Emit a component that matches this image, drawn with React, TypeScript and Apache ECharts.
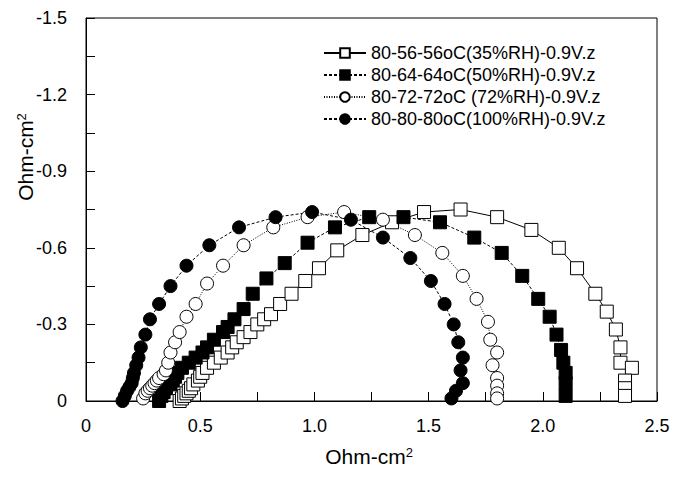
import React, { useEffect, useRef } from "react";
import * as echarts from "echarts";

const seriesNames = [
  "80-56-56oC(35%RH)-0.9V.z",
  "80-64-64oC(50%RH)-0.9V.z",
  "80-72-72oC (72%RH)-0.9V.z",
  "80-80-80oC(100%RH)-0.9V.z",
];

const xTicks = ["0", "0.5", "1.0", "1.5", "2.0", "2.5"];
const yTicks = ["-1.5", "-1.2", "-0.9", "-0.6", "-0.3", "0"];

const rh35: [number, number][] = [
  [0.41, 0.0], [0.42, -0.01], [0.43, -0.02], [0.44, -0.03], [0.45, -0.04], [0.46, -0.05],
  [0.47, -0.065], [0.49, -0.08], [0.5, -0.095], [0.51, -0.11], [0.53, -0.13], [0.56, -0.15],
  [0.59, -0.17], [0.62, -0.19], [0.64, -0.21], [0.66, -0.23], [0.69, -0.25], [0.72, -0.27],
  [0.75, -0.3], [0.78, -0.32], [0.81, -0.34], [0.85, -0.38], [0.9, -0.42], [0.96, -0.47],
  [1.02, -0.52], [1.1, -0.59], [1.21, -0.65], [1.34, -0.7], [1.48, -0.74], [1.64, -0.75],
  [1.8, -0.72], [1.95, -0.67], [2.07, -0.6], [2.15, -0.52], [2.23, -0.42], [2.28, -0.35],
  [2.32, -0.28], [2.34, -0.21], [2.34, -0.15], [2.39, -0.13], [2.36, -0.08], [2.36, -0.05],
  [2.36, -0.02],
];

const rh50: [number, number][] = [
  [0.32, 0.0], [0.33, -0.02], [0.34, -0.035], [0.35, -0.05], [0.37, -0.065], [0.38, -0.08],
  [0.39, -0.095], [0.4, -0.11], [0.42, -0.13], [0.45, -0.15], [0.48, -0.17], [0.51, -0.19],
  [0.53, -0.21], [0.56, -0.24], [0.6, -0.27], [0.62, -0.29], [0.65, -0.32], [0.69, -0.36],
  [0.73, -0.42], [0.79, -0.48], [0.87, -0.54], [0.97, -0.62], [1.09, -0.68], [1.24, -0.72],
  [1.39, -0.72], [1.55, -0.7], [1.7, -0.64], [1.82, -0.58], [1.91, -0.49], [1.98, -0.4],
  [2.03, -0.33], [2.06, -0.26], [2.08, -0.2], [2.09, -0.15], [2.1, -0.11], [2.1, -0.07],
  [2.1, -0.02],
];

const rh72: [number, number][] = [
  [0.25, -0.01], [0.26, -0.03], [0.27, -0.04], [0.28, -0.05], [0.29, -0.06], [0.3, -0.07],
  [0.31, -0.08], [0.32, -0.09], [0.34, -0.105], [0.35, -0.12], [0.36, -0.15], [0.37, -0.19],
  [0.39, -0.23], [0.41, -0.27], [0.44, -0.33], [0.48, -0.38], [0.53, -0.46], [0.6, -0.53],
  [0.69, -0.61], [0.82, -0.68], [0.97, -0.72], [1.13, -0.74], [1.3, -0.71], [1.44, -0.65],
  [1.56, -0.58], [1.65, -0.49], [1.71, -0.4], [1.76, -0.31], [1.77, -0.24], [1.8, -0.19],
  [1.78, -0.14], [1.8, -0.09], [1.8, -0.06], [1.8, -0.03], [1.8, -0.01],
];

const rh100: [number, number][] = [
  [0.16, 0.0], [0.17, -0.02], [0.18, -0.04], [0.19, -0.055], [0.2, -0.07], [0.205, -0.09],
  [0.21, -0.11], [0.22, -0.14], [0.23, -0.17], [0.24, -0.21], [0.26, -0.26], [0.28, -0.32],
  [0.32, -0.38], [0.37, -0.45], [0.44, -0.53], [0.54, -0.61], [0.67, -0.68], [0.83, -0.72],
  [0.99, -0.74], [1.16, -0.71], [1.3, -0.64], [1.42, -0.56], [1.51, -0.47], [1.57, -0.38],
  [1.61, -0.3], [1.63, -0.23], [1.65, -0.17], [1.64, -0.12], [1.65, -0.07], [1.62, -0.04],
  [1.6, -0.01],
];

const FONT = "'Liberation Sans', Arial, sans-serif";

export default function App() {
  const ref = useRef<HTMLDivElement>(null);
  useEffect(() => {
    if (!ref.current) return;
    const chart = echarts.init(ref.current, undefined, { renderer: "svg" });
    const mk = (
      name: string,
      data: [number, number][],
      symbol: string,
      filled: boolean,
      type: any
    ) => ({
      name,
      type: "line",
      data,
      symbol,
      symbolSize: 13,
      showAllSymbol: true,
      lineStyle: { color: "#000", width: 1, type },
      itemStyle: {
        color: filled ? "#000" : "#fff",
        borderColor: "#000",
        borderWidth: 1,
        opacity: 1,
      },
      emphasis: { disabled: true },
    });
    const fmtX = (v: number) => {
      const i = Math.round(v / 0.5);
      return xTicks[i] ?? "";
    };
    const fmtY = (v: number) => {
      const i = Math.round((v + 1.5) / 0.3);
      return yTicks[i] ?? "";
    };
    const axisTitle = (x: number, y: number, rotation: number) => ({
      type: "text",
      x,
      y,
      rotation,
      style: {
        text: "Ohm-cm{s|2}",
        fontFamily: FONT,
        fontSize: 21,
        fill: "#000",
        align: "center",
        verticalAlign: "middle",
        rich: {
          s: { fontSize: 13, verticalAlign: "top", fontFamily: FONT, fill: "#000" },
        },
      },
    });
    chart.setOption({
      animation: false,
      backgroundColor: "#fff",
      textStyle: { fontFamily: FONT },
      grid: {
        left: 86,
        top: 18,
        right: 26,
        bottom: 77,
        show: true,
        borderColor: "#000",
        borderWidth: 1,
        backgroundColor: "transparent",
      },
      legend: {
        orient: "vertical",
        left: 318,
        top: 39,
        itemWidth: 42,
        itemHeight: 12,
        itemGap: 4,
        selectedMode: false,
        textStyle: { fontFamily: FONT, fontSize: 18, color: "#000" },
        data: seriesNames,
      },
      xAxis: {
        type: "value",
        min: 0,
        max: 2.5,
        interval: 0.5,
        axisLine: { show: true, lineStyle: { color: "#000", width: 1 } },
        axisTick: { show: true, inside: true, length: 9, lineStyle: { color: "#000" } },
        minorTick: { show: true, splitNumber: 2, length: 9, lineStyle: { color: "#000" } },
        splitLine: { show: false },
        axisLabel: {
          margin: 16,
          fontSize: 18,
          color: "#000",
          fontFamily: FONT,
          formatter: fmtX,
        },
      },
      yAxis: {
        type: "value",
        min: -1.5,
        max: 0,
        interval: 0.3,
        inverse: true,
        axisLine: { show: true, lineStyle: { color: "#000", width: 1 } },
        axisTick: { show: true, inside: true, length: 9, lineStyle: { color: "#000" } },
        minorTick: { show: true, splitNumber: 2, length: 9, lineStyle: { color: "#000" } },
        splitLine: { show: false },
        axisLabel: {
          margin: 19,
          fontSize: 18,
          color: "#000",
          fontFamily: FONT,
          formatter: fmtY,
        },
      },
      graphic: [axisTitle(369, 456, 0), axisTitle(25, 157, Math.PI / 2)],
      series: [
        mk(seriesNames[0], rh35, "rect", false, "solid"),
        mk(seriesNames[1], rh50, "rect", true, [3, 2]),
        mk(seriesNames[2], rh72, "circle", false, [1, 1.5]),
        mk(seriesNames[3], rh100, "circle", true, [3, 2]),
      ],
    });
    return () => chart.dispose();
  }, []);
  return <div ref={ref} style={{ width: 683, height: 478, margin: -8 }} />;
}
